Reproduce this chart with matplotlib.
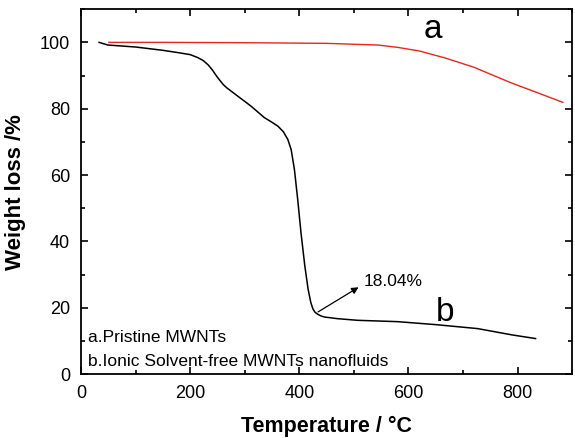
import matplotlib
matplotlib.use("Agg")
import matplotlib.pyplot as plt
from matplotlib.ticker import MultipleLocator

plt.rcParams['font.family'] = ['Liberation Sans', 'DejaVu Sans']

# curve a: pristine MWNTs
temp_a = [51, 150, 300, 450, 544, 580, 620, 667, 720, 788, 840, 883]
wt_a = [100, 100, 99.9, 99.7, 99.2, 98.5, 97.4, 95.3, 92.5, 87.8, 84.6, 81.9]

# curve b: ionic solvent-free MWNTs nanofluids
temp_b = [33, 49, 100, 150, 178, 200, 214, 224, 233, 241, 248, 255, 261, 267, 275, 287, 300, 312, 324,
          336, 349, 361, 371, 379, 385, 391, 397, 403, 410, 416, 421, 425, 429, 434, 440,
          446, 470, 507, 580, 650, 727, 790, 833]
wt_b = [100, 99.2, 98.6, 97.6, 96.9, 96.3, 95.4, 94.5, 93.2, 91.6, 89.9, 88.4, 87.2, 86.3, 85.3, 83.8, 82.2, 80.7, 79.0,
        77.3, 76.0, 74.7, 73.0, 70.7, 67.7, 61.7, 52.7, 42.7, 32.7, 25.7, 21.6, 19.6, 18.6, 18.0, 17.5,
        17.2, 16.7, 16.2, 15.8, 14.9, 13.7, 11.8, 10.7]

xticks = [0, 200, 400, 600, 800]
yticks = [0, 20, 40, 60, 80, 100]

fig = plt.figure(figsize=(5.75, 4.38), dpi=100)
ax = fig.add_axes([0.141, 0.146, 0.854, 0.833])

ax.plot(temp_a, wt_a, color='#e8261c', lw=1.0)
ax.plot(temp_b, wt_b, color='black', lw=1.1)

ax.set_xlim(0, 900)
ax.set_ylim(0, 110)
ax.set_xticks(xticks)
ax.set_yticks(yticks)
ax.xaxis.set_minor_locator(MultipleLocator(100))
ax.yaxis.set_minor_locator(MultipleLocator(10))
ax.tick_params(which='both', direction='in', top=True, right=True, labelsize=13, width=1.2)
ax.tick_params(which='major', length=5, pad=8)
ax.tick_params(which='minor', length=3)
for s in ax.spines.values():
    s.set_linewidth(1.3)

ax.set_xlabel('Temperature / °C', fontsize=15.5, fontweight='bold', labelpad=10)
ax.set_ylabel('Weight loss /%', fontsize=16, fontweight='bold', labelpad=10)

ax.annotate('', xy=(513, 26.6), xytext=(430, 18.3),
            arrowprops=dict(arrowstyle='-|>', color='black', lw=0.9, mutation_scale=10))
ax.text(518, 27.8, '18.04%', fontsize=12.5, va='center', ha='left')
ax.text(645, 104, 'a', fontsize=24, va='center', ha='center')
ax.text(667, 18.5, 'b', fontsize=24, va='center', ha='center')
ax.text(12, 11, 'a.Pristine MWNTs', fontsize=12.5, va='center', ha='left')
ax.text(12, 3.8, 'b.Ionic Solvent-free MWNTs nanofluids', fontsize=12.5, va='center', ha='left')

fig.savefig('out.png', dpi=100)
